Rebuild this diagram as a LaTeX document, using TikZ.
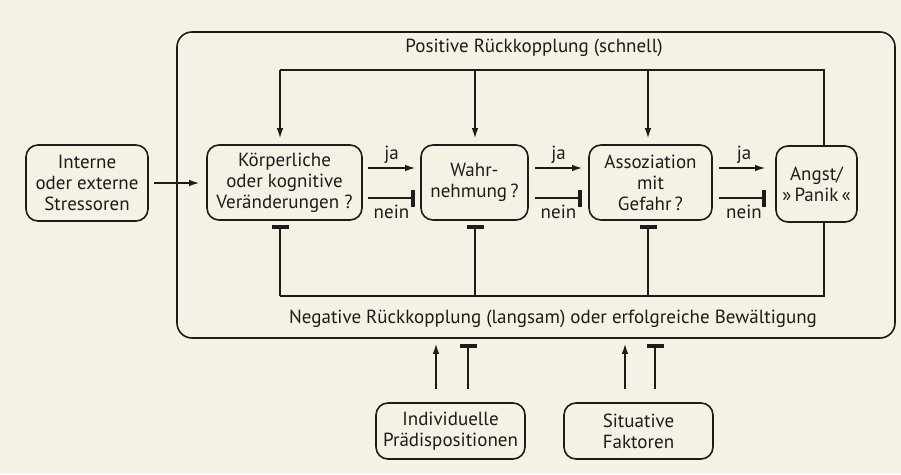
\documentclass[tikz,border=0pt]{standalone}
\usepackage{fontspec}
\setmainfont{PT Sans}
\usetikzlibrary{arrows.meta}
\definecolor{paper}{RGB}{246,241,229}
\definecolor{ink}{RGB}{30,28,26}
\begin{document}
\begin{tikzpicture}[x=1pt,y=-1pt,
  font=\fontsize{19}{21}\selectfont,
  box/.style={draw=ink, line width=1.6pt, rounded corners=12pt, align=center, text=ink, inner sep=0pt, minimum height=75pt},
  conn/.style={draw=ink, line width=1.4pt},
  arr/.style={conn, -{Latex[length=10pt,width=6.5pt]}},
  inh/.style={conn, -{Rectangle[length=4.5pt,width=17pt]}},
  lbl/.style={text=ink}]
\fill[paper] (0,0) rectangle (901,474);
\useasboundingbox (0,0) rectangle (901,474);

% boxes
\node[box, minimum width=718pt, minimum height=306pt, rounded corners=15pt] (outer) at (536,185) {};
\node[box, minimum width=122pt, minimum height=76pt] (S) at (87,183) {Interne\\oder externe\\Stressoren};
\node[box, minimum width=155pt] (K) at (284.5,182.5) {Körperliche\\oder kognitive\\Veränderungen ?};
\node[box, minimum width=107pt] (W) at (474.5,182.5) {Wahr-\\nehmung\,?};
\node[box, minimum width=123pt] (A) at (650.5,182.5) {Assoziation\\mit\\Gefahr\,?};
\node[box, minimum width=81pt, minimum height=76pt] (P) at (816.5,184) {Angst/\\»\,Panik\,«};
\node[box, minimum width=149pt, minimum height=56pt] (I) at (450.5,431) {Individuelle\\Prädispositionen};
\node[box, minimum width=149pt, minimum height=56pt] (F) at (638.5,431) {Situative\\Faktoren};

\node[lbl] (pos) at (534,48) {Positive Rückkopplung (schnell)};
\node[lbl] (neg) at (553,319) {Negative Rückkopplung (langsam) oder erfolgreiche Bewältigung};

% feedback line coordinates
\coordinate (tl) at (280,70);
\coordinate (t2) at (475,70);
\coordinate (t3) at (648,70);
\coordinate (tr) at (824,70);
\coordinate (bl) at (280,296);
\coordinate (b2) at (475,296);
\coordinate (b3) at (648,296);
\coordinate (br) at (824,296);

% positive feedback (top)
\draw[conn] (tr |- P.north) -- (tr) -- (tl);
\draw[arr, shorten >=6pt] (tl) -- (tl |- K.north);
\draw[arr, shorten >=6pt] (t2) -- (t2 |- W.north);
\draw[arr, shorten >=6pt] (t3) -- (t3 |- A.north);

% negative feedback (bottom)
\draw[conn] (br |- P.south) -- (br) -- (bl);
\draw[inh, shorten >=4pt] (bl) -- (bl |- K.south);
\draw[inh, shorten >=4pt] (b2) -- (b2 |- W.south);
\draw[inh, shorten >=4pt] (b3) -- (b3 |- A.south);

% stressors
\draw[arr, shorten <=5pt, shorten >=7pt] (S.east) -- (S.east -| K.west);

% ja / nein
\draw[arr, shorten <=5pt, shorten >=5pt] ([yshift=14.5pt]K.east) -- ([yshift=14.5pt]K.east -| W.west) node[midway, above=0pt, lbl] {ja};
\draw[inh, shorten <=5pt, shorten >=5pt] ([yshift=-15.5pt]K.east) -- ([yshift=-15.5pt]K.east -| W.west) node[midway, below=3pt, lbl] {nein};
\draw[arr, shorten <=6pt, shorten >=6pt] ([yshift=14.5pt]W.east) -- ([yshift=14.5pt]W.east -| A.west) node[midway, above=0pt, lbl] {ja};
\draw[inh, shorten <=6pt, shorten >=6pt] ([yshift=-15.5pt]W.east) -- ([yshift=-15.5pt]W.east -| A.west) node[midway, below=3pt, lbl] {nein};
\draw[arr, shorten <=6pt, shorten >=10pt] ([yshift=14.5pt]A.east) -- ([yshift=14.5pt]A.east -| P.west) node[midway, above=0pt, lbl] {ja};
\draw[inh, shorten <=6pt, shorten >=9pt] ([yshift=-15.5pt]A.east) -- ([yshift=-15.5pt]A.east -| P.west) node[midway, below=3pt, lbl] {nein};

% bottom influences
\coordinate (xa) at (436,0);
\coordinate (xb) at (468,0);
\coordinate (xc) at (625,0);
\coordinate (xd) at (655,0);
\draw[arr, shorten <=13pt, shorten >=5pt] (I.north -| xa) -- (outer.south -| xa);
\draw[inh, shorten <=13pt, shorten >=5pt] (I.north -| xb) -- (outer.south -| xb);
\draw[arr, shorten <=13pt, shorten >=5pt] (F.north -| xc) -- (outer.south -| xc);
\draw[inh, shorten <=13pt, shorten >=5pt] (F.north -| xd) -- (outer.south -| xd);
\end{tikzpicture}
\end{document}
